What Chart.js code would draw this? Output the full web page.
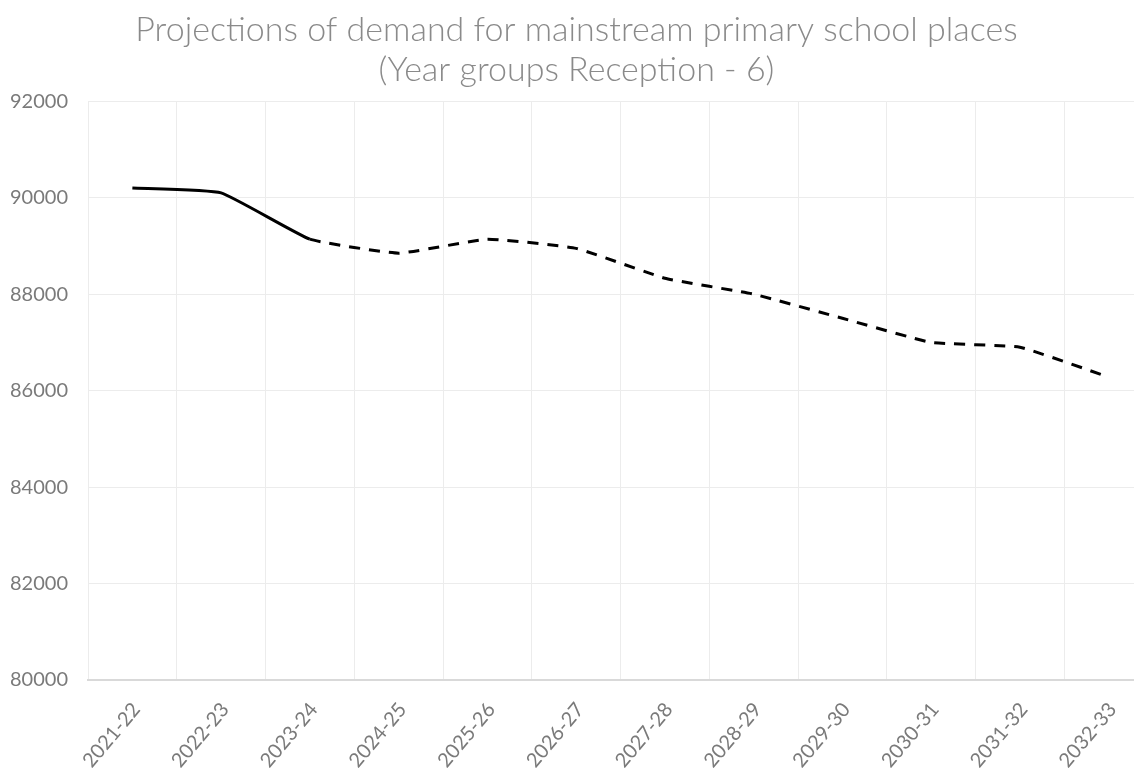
<!DOCTYPE html>
<html>
<head>
<meta charset="utf-8">
<script src="https://cdn.jsdelivr.net/npm/chart.js@4.4.1/dist/chart.umd.min.js"></script>
<style>
  body { margin:0; background:#fff; overflow:hidden; }
  #wrap { width:1134px; height:769px; overflow:hidden; }
  #box { width:1210px; height:769px; }
</style>
</head>
<body>
<div id="wrap"><div id="box"><canvas id="chart"></canvas></div></div>
<script>
const years = ["2021-22","2022-23","2023-24","2024-25","2025-26","2026-27","2027-28","2028-29","2029-30","2030-31","2031-32","2032-33"];
const demand = [90200,90100,89140,88850,89140,88950,88330,88000,87500,87000,86900,86280];
const yTicks = [80000,82000,84000,86000,88000,90000,92000];
// first 3 points are actual, the rest projected (dashed)
const lastActual = 2;

const FONT = "Lato, 'Open Sans', sans-serif";

new Chart(document.getElementById("chart"), {
  type: "line",
  data: {
    labels: years,
    datasets: [{
      data: demand,
      borderColor: "#000",
      borderWidth: 3,
      pointRadius: 0,
      tension: 0.12,
      segment: {
        borderDash: ctx => ctx.p0DataIndex >= lastActual ? [11, 9] : []
      }
    }]
  },
  options: {
    responsive: true,
    maintainAspectRatio: false,
    animation: false,
    layout: { padding: { left: 0, right: 57, top: 0, bottom: 0 } },
    plugins: {
      legend: { display: false },
      tooltip: { enabled: false },
      title: {
        display: true,
        text: ["Projections of demand for mainstream primary school places", "(Year groups Reception - 6)"],
        color: "#8a8a8a",
        font: { family: FONT, size: 34, weight: 300, lineHeight: 1.18 },
        padding: { top: 10, bottom: 11 }
      }
    },
    scales: {
      x: {
        offset: true,
        grid: { offset: true, color: "#ececec", lineWidth: 1, drawTicks: false },
        border: { color: "#d9d9d9", width: 2 },
        ticks: {
          color: "#7a7a7a",
          font: { family: FONT, size: 20 },
          minRotation: 50, maxRotation: 50,
          padding: 18,
          labelOffset: 4,
          autoSkip: false
        },
        afterFit: s => { s.height = 89; }
      },
      y: {
        min: yTicks[0],
        max: yTicks[yTicks.length - 1],
        afterBuildTicks: s => { s.ticks = yTicks.map(v => ({ value: v })); },
        grid: { color: "#ececec", lineWidth: 1, drawTicks: false },
        border: { display: false },
        ticks: {
          color: "#7a7a7a",
          font: { family: FONT, size: 20 },
          padding: 20,
          callback: v => String(v)
        },
        afterFit: s => { s.width = 88; }
      }
    }
  }
});
</script>
</body>
</html>
